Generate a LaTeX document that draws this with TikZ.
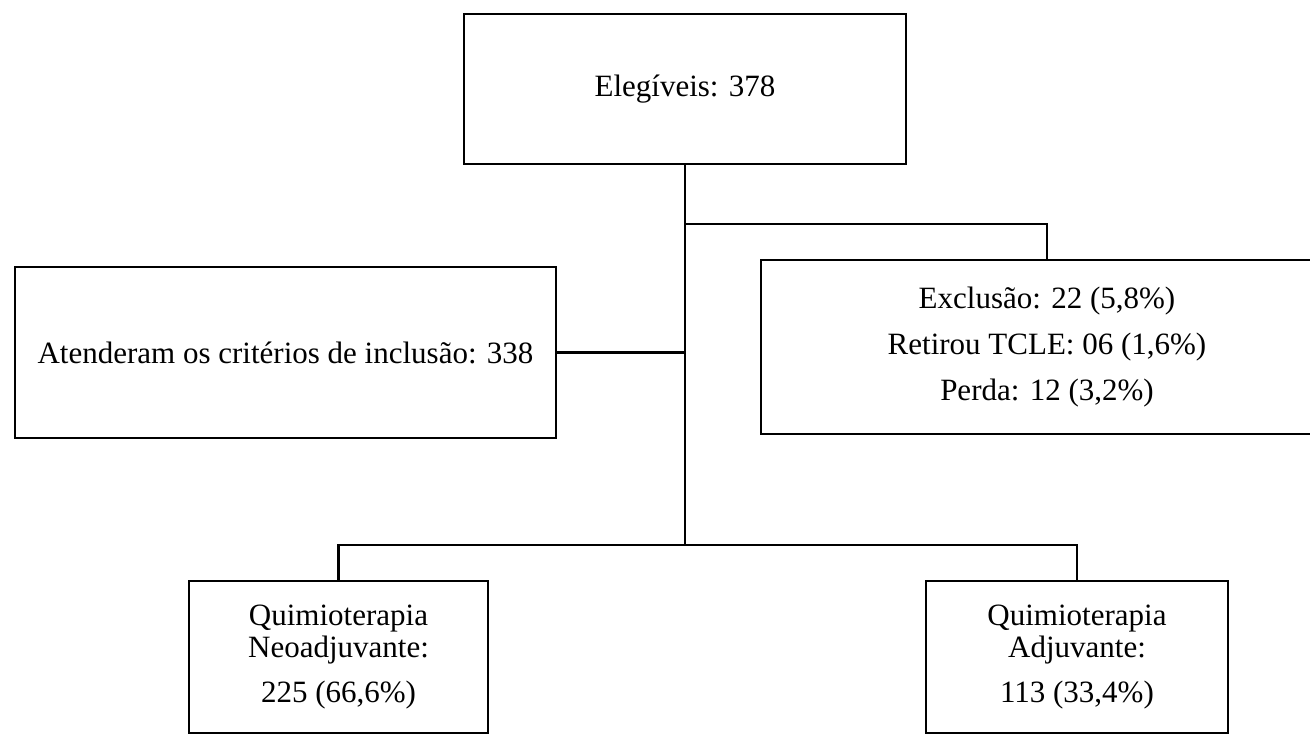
\documentclass[tikz,border=0pt]{standalone}
\usepackage{fontspec}
\setmainfont{Liberation Serif}
\begin{document}
\begin{tikzpicture}[x=1pt,y=-1pt,
  every node/.style={font=\fontsize{31}{32}\selectfont},
  box/.style={draw=black,line width=2.6pt,rectangle,inner sep=0pt,align=center},
  conn/.style={draw=black,line width=2.6pt}]
\useasboundingbox (0,0) rectangle (1310,735);
\node[box,minimum width=442pt,minimum height=150pt] (top) at (685,89) {Elegíveis: 378};
\node[box,minimum width=541pt,minimum height=171pt] (left) at (285.5,352.5) {Atenderam os critérios de inclusão: 338};
\node[box,minimum width=572pt,minimum height=174pt] (right) at (1047,347) {Exclusão: 22 (5,8\%)\\[13.6pt]Retirou TCLE: 06 (1,6\%)\\[13.6pt]Perda: 12 (3,2\%)};
\node[box,minimum width=299pt,minimum height=152pt] (bl) at (338.5,657) {Quimioterapia\\Neoadjuvante:\\[13pt]225 (66,6\%)};
\node[box,minimum width=302pt,minimum height=152pt] (br) at (1077,657) {Quimioterapia\\Adjuvante:\\[13pt]113 (33,4\%)};
\coordinate (j1) at (685,224);
\coordinate (j3) at (685,545);
\draw[conn] (top.south) -- (j3);
\draw[conn] (j1) -| (right.north);
\draw[conn] (left.east) -- (left.east -| top.south);
\draw[conn] (bl.north) |- (j3) -| (br.north);
\end{tikzpicture}
\end{document}
